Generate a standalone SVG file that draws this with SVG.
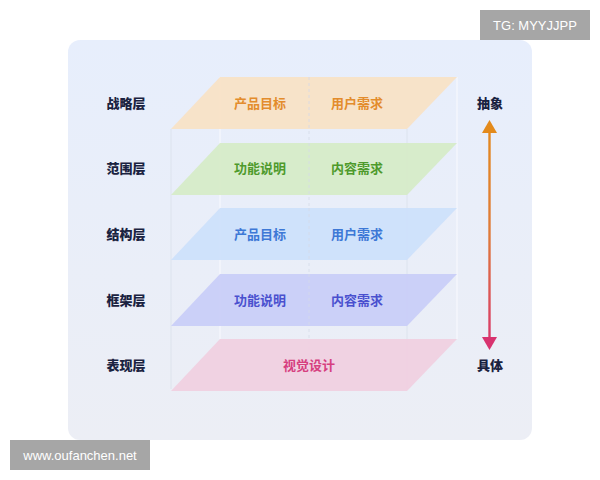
<svg xmlns="http://www.w3.org/2000/svg" width="600" height="480" viewBox="0 0 600 480">
  <defs>
    <linearGradient id="bg" x1="0" y1="0" x2="0" y2="1">
      <stop offset="0" stop-color="#e7eefc"/>
      <stop offset="1" stop-color="#eceef5"/>
    </linearGradient>
    <linearGradient id="arrowGrad" x1="0" y1="120" x2="0" y2="350" gradientUnits="userSpaceOnUse">
      <stop offset="0" stop-color="#e38a1c"/>
      <stop offset="0.5" stop-color="#df7a3a"/>
      <stop offset="1" stop-color="#d8336f"/>
    </linearGradient>
    <polygon id="plane" points="220,0 457,0 407,52 171,52"/>
  </defs>
  <style>
    .lbl { font-family: "Noto Sans CJK SC", "Liberation Sans", sans-serif; font-size: 13px; font-weight: 900; fill: #1a2240; text-anchor: middle; }
    .in { font-family: "Noto Sans CJK SC", "Liberation Sans", sans-serif; font-size: 13px; font-weight: 700; text-anchor: middle; }
    .edge { stroke: #f7f9fd; stroke-width: 1.2; fill: none; }
    .edge2 { stroke: #d9dfeb; stroke-width: 0.8; fill: none; }
    .mid { stroke: #d4dae8; stroke-width: 0.8; stroke-dasharray: 3 3; fill: none; }
    .wm { fill: #a6a6a6; }
    .wmt { font-family: "Liberation Sans", "DejaVu Sans", sans-serif; font-size: 13px; fill: #ffffff; text-anchor: middle; }
  </style>

  <rect x="68" y="40" width="464" height="400" rx="12" fill="url(#bg)"/>

  <!-- faint box edges -->
  <g id="box-edges">
    <line class="edge" x1="220" y1="77" x2="220" y2="339"/>
    <line class="edge" x1="457" y1="77" x2="457" y2="339"/>
    <line class="edge2" x1="171" y1="129" x2="171" y2="389"/>
    <line class="edge2" x1="407" y1="129" x2="407" y2="389"/>
    <line class="mid" x1="309" y1="77" x2="309" y2="389"/>
  </g>

  <g id="layer-strategy">
    <use href="#plane" transform="translate(0,77)" fill="#f8e1c6" opacity="0.95"/>
    <line class="mid" x1="309" y1="77" x2="309" y2="129"/>
    <text class="lbl" x="126" y="108">战略层</text>
    <text class="in" x="260" y="108" fill="#e38c2c">产品目标</text>
    <text class="in" x="357" y="108" fill="#e38c2c">用户需求</text>
  </g>

  <g id="layer-scope">
    <use href="#plane" transform="translate(0,143)" fill="#d6ebc8" opacity="0.95"/>
    <line class="mid" x1="309" y1="143" x2="309" y2="195"/>
    <text class="lbl" x="126" y="173">范围层</text>
    <text class="in" x="260" y="173" fill="#4e9a2c">功能说明</text>
    <text class="in" x="357" y="173" fill="#4e9a2c">内容需求</text>
  </g>

  <g id="layer-structure">
    <use href="#plane" transform="translate(0,208)" fill="#cde0fb" opacity="0.95"/>
    <line class="mid" x1="309" y1="208" x2="309" y2="260"/>
    <text class="lbl" x="126" y="239">结构层</text>
    <text class="in" x="260" y="239" fill="#3d78d6">产品目标</text>
    <text class="in" x="357" y="239" fill="#3d78d6">用户需求</text>
  </g>

  <g id="layer-skeleton">
    <use href="#plane" transform="translate(0,274)" fill="#c9cdf8" opacity="0.95"/>
    <line class="mid" x1="309" y1="274" x2="309" y2="326"/>
    <text class="lbl" x="126" y="305">框架层</text>
    <text class="in" x="260" y="305" fill="#4a50cf">功能说明</text>
    <text class="in" x="357" y="305" fill="#4a50cf">内容需求</text>
  </g>

  <g id="layer-surface">
    <use href="#plane" transform="translate(0,339)" fill="#f0d0e0" opacity="0.95"/>
    <text class="lbl" x="126" y="370">表现层</text>
    <text class="in" x="309" y="370" fill="#d6407f">视觉设计</text>
  </g>

  <g id="label-abstract">
    <text class="lbl" x="490" y="108">抽象</text>
  </g>
  <g id="label-concrete">
    <text class="lbl" x="490" y="370">具体</text>
  </g>

  <g id="connectors">
    <line x1="489.5" y1="130" x2="489.5" y2="339" stroke="url(#arrowGrad)" stroke-width="2.4"/>
    <polygon points="489.5,120 482,133 497,133" fill="#e38a1c"/>
    <polygon points="489.5,350 482,337 497,337" fill="#d8336f"/>
  </g>

  <g id="watermark-tg">
    <rect class="wm" x="480" y="10" width="110" height="30"/>
    <text class="wmt" x="535" y="30">TG: MYYJJPP</text>
  </g>
  <g id="watermark-site">
    <rect class="wm" x="10" y="440" width="140" height="30"/>
    <text class="wmt" x="80" y="460">www.oufanchen.net</text>
  </g>
</svg>
